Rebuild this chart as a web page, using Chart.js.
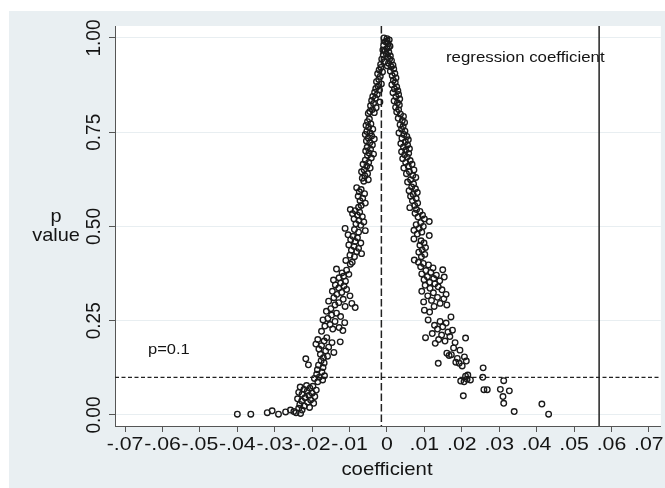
<!DOCTYPE html>
<html>
<head>
<meta charset="utf-8">
<script src="https://cdn.jsdelivr.net/npm/chart.js@4.4.1/dist/chart.umd.min.js"></script>
<style>
    html, body { margin: 0; padding: 0; background: #fff; }
    #wrap { width: 665px; height: 488px; }
</style>
</head>
<body>
<div id="wrap"><canvas id="grafico" width="665" height="488"></canvas></div>
<script>
// ticks
const xTicks = [-0.07, -0.06, -0.05, -0.04, -0.03, -0.02, -0.01, 0, 0.01, 0.02, 0.03, 0.04, 0.05, 0.06, 0.07];
const xTickLabels = ['-.07', '-.06', '-.05', '-.04', '-.03', '-.02', '-.01', '0', '.01', '.02', '.03', '.04', '.05', '.06', '.07'];
const yTicks = [0, 0.25, 0.5, 0.75, 1];
const yTickLabels = ['0.00', '0.25', '0.50', '0.75', '1.00'];

// reference lines
const zeroLine = -0.0015;
const coefLine = 0.0567;
const pThreshold = 0.1;

// [coefficient, p value]
const peakPoints = [
    [-0.0008, 1.0], [0.0, 0.998], [0.0006, 0.995], [-0.0004, 0.99], [0.0003, 0.985], [-0.0009, 0.98],
    [0.0008, 0.978], [0.0, 0.972], [-0.0005, 0.965], [0.0005, 0.962], [-0.001, 0.955], [0.0009, 0.952],
    [0.0002, 0.948], [-0.0014, 0.944], [0.0012, 0.94], [-0.0006, 0.937], [0.0004, 0.933], [-0.0017, 0.93],
    [0.0016, 0.928], [0.0, 0.992], [0.0004, 0.975], [-0.0002, 0.958], [0.0007, 0.944], [-0.0011, 0.968],
    [0.0001, 0.926]
];

const leftBranch = [
    [-0.0016, 0.922], [-0.0021, 0.915], [-0.0012, 0.91], [-0.0025, 0.905], [-0.0018, 0.898], [-0.0022, 0.89],
    [-0.0028, 0.884], [-0.0015, 0.878], [-0.0024, 0.872], [-0.003, 0.866], [-0.002, 0.862],
    [-0.0033, 0.856], [-0.0026, 0.85], [-0.0038, 0.845], [-0.0031, 0.84], [-0.0041, 0.834], [-0.0019, 0.83],
    [-0.0036, 0.826], [-0.0044, 0.82], [-0.0029, 0.815], [-0.0039, 0.81], [-0.0046, 0.805], [-0.0034, 0.802],
    [-0.005, 0.8],
    [-0.0047, 0.785], [-0.0052, 0.778], [-0.0043, 0.772], [-0.0056, 0.768], [-0.0049, 0.763], [-0.0038, 0.758],
    [-0.0054, 0.752], [-0.0045, 0.748], [-0.0058, 0.744], [-0.0041, 0.74], [-0.005, 0.735], [-0.0034, 0.732],
    [-0.0055, 0.727], [-0.0046, 0.722], [-0.0039, 0.716], [-0.0053, 0.71], [-0.0044, 0.705], [-0.0057, 0.7],
    [-0.0048, 0.695], [-0.0036, 0.692], [-0.0052, 0.688],
    [-0.0042, 0.682], [-0.0058, 0.676], [-0.0049, 0.67], [-0.0064, 0.665], [-0.0054, 0.66], [-0.0045, 0.655],
    [-0.0061, 0.65], [-0.0068, 0.645], [-0.0052, 0.64], [-0.0059, 0.634], [-0.0066, 0.628], [-0.005, 0.624],
    [-0.0062, 0.62],
    [-0.0081, 0.603], [-0.0069, 0.598], [-0.0074, 0.592], [-0.006, 0.587], [-0.0077, 0.58], [-0.0065, 0.575],
    [-0.0072, 0.568], [-0.0058, 0.562], [-0.0069, 0.556], [-0.0076, 0.551],
    [-0.0098, 0.545], [-0.0085, 0.542], [-0.0073, 0.538], [-0.0092, 0.534], [-0.0079, 0.53], [-0.0066, 0.526],
    [-0.0088, 0.52], [-0.0075, 0.516], [-0.0062, 0.512], [-0.0083, 0.507], [-0.007, 0.503], [-0.0112, 0.495],
    [-0.0087, 0.492], [-0.0058, 0.489], [-0.0076, 0.485],
    [-0.0104, 0.478], [-0.0091, 0.474], [-0.0079, 0.47], [-0.0097, 0.465], [-0.0085, 0.46], [-0.007, 0.456],
    [-0.0102, 0.451], [-0.0088, 0.447], [-0.0076, 0.442], [-0.0095, 0.437], [-0.0081, 0.433], [-0.0068, 0.428],
    [-0.0099, 0.424], [-0.0087, 0.42], [-0.011, 0.41], [-0.0093, 0.405], [-0.0098, 0.4],
    [-0.0135, 0.387], [-0.0108, 0.384], [-0.012, 0.377], [-0.0102, 0.373], [-0.0116, 0.368], [-0.0128, 0.364],
    [-0.0143, 0.358], [-0.0111, 0.355], [-0.0124, 0.35],
    [-0.0138, 0.345], [-0.0115, 0.342], [-0.0129, 0.337], [-0.0108, 0.333], [-0.0146, 0.328], [-0.0121, 0.325],
    [-0.0134, 0.32], [-0.0099, 0.316], [-0.0142, 0.311], [-0.0117, 0.307], [-0.0156, 0.302], [-0.0129, 0.298],
    [-0.0094, 0.296], [-0.0139, 0.292], [-0.0112, 0.288], [-0.0085, 0.285], [-0.015, 0.282],
    [-0.0162, 0.275], [-0.0135, 0.27], [-0.0148, 0.265], [-0.0124, 0.261], [-0.0158, 0.256], [-0.0171, 0.252],
    [-0.0139, 0.248], [-0.0113, 0.245], [-0.0152, 0.24], [-0.0166, 0.236], [-0.0128, 0.232], [-0.0145, 0.228],
    [-0.0118, 0.224], [-0.0175, 0.222],
    [-0.0125, 0.194], [-0.0161, 0.205], [-0.0185, 0.2], [-0.0168, 0.196], [-0.0147, 0.192], [-0.019, 0.188],
    [-0.0175, 0.184], [-0.0156, 0.18], [-0.0182, 0.175], [-0.0164, 0.17], [-0.0142, 0.166], [-0.0178, 0.161],
    [-0.0159, 0.156], [-0.017, 0.152],
    [-0.0217, 0.149], [-0.021, 0.133], [-0.0176, 0.144], [-0.0168, 0.138], [-0.0183, 0.132], [-0.0171, 0.126],
    [-0.0186, 0.12], [-0.0174, 0.114], [-0.0188, 0.108], [-0.0167, 0.104], [-0.0181, 0.1], [-0.0194, 0.097],
    [-0.0172, 0.093], [-0.0185, 0.088],
    [-0.0215, 0.078], [-0.0198, 0.076], [-0.0232, 0.074], [-0.0206, 0.071], [-0.0222, 0.068], [-0.0189, 0.066],
    [-0.0213, 0.063], [-0.0236, 0.06], [-0.02, 0.058], [-0.0227, 0.055], [-0.0209, 0.052], [-0.0193, 0.049],
    [-0.0219, 0.046], [-0.0239, 0.043], [-0.0204, 0.04], [-0.0228, 0.037], [-0.0212, 0.034], [-0.0196, 0.031],
    [-0.0233, 0.028], [-0.0221, 0.024], [-0.0207, 0.02],
    [-0.040, 0.002], [-0.0364, 0.002], [-0.032, 0.006], [-0.0307, 0.011], [-0.029, 0.002], [-0.0271, 0.008],
    [-0.0258, 0.013], [-0.0243, 0.006], [-0.0236, 0.018], [-0.0227, 0.013], [-0.0249, 0.009], [-0.0231, 0.004]
];

const rightBranch = [
    [0.0011, 0.924], [0.0018, 0.918], [0.0009, 0.912], [0.0021, 0.906], [0.0014, 0.9], [0.0024, 0.894],
    [0.0017, 0.888], [0.0022, 0.882], [0.0013, 0.876], [0.0026, 0.87],
    [0.002, 0.865], [0.0029, 0.86], [0.0016, 0.855], [0.0031, 0.85], [0.0024, 0.844], [0.0034, 0.838],
    [0.0019, 0.833], [0.0028, 0.828], [0.0033, 0.822], [0.0023, 0.816], [0.0031, 0.81], [0.0026, 0.804],
    [0.0036, 0.798], [0.0044, 0.792], [0.003, 0.787], [0.0041, 0.781], [0.0047, 0.776], [0.0035, 0.77],
    [0.0043, 0.765], [0.0039, 0.758], [0.0048, 0.753],
    [0.0032, 0.748], [0.0045, 0.744], [0.0053, 0.739], [0.004, 0.734], [0.0057, 0.73], [0.0049, 0.725],
    [0.0037, 0.72], [0.0055, 0.716], [0.0044, 0.711], [0.006, 0.706], [0.005, 0.702], [0.0039, 0.698],
    [0.0058, 0.694], [0.0047, 0.69],
    [0.0054, 0.684], [0.0042, 0.68], [0.0062, 0.675], [0.005, 0.67], [0.0067, 0.665], [0.0057, 0.66],
    [0.0045, 0.655], [0.0072, 0.65], [0.006, 0.645], [0.0052, 0.64], [0.0069, 0.635], [0.0077, 0.63],
    [0.0063, 0.624], [0.0055, 0.618], [0.0071, 0.613],
    [0.0066, 0.605], [0.0076, 0.6], [0.0059, 0.595], [0.0081, 0.59], [0.007, 0.585], [0.0063, 0.58],
    [0.0078, 0.574], [0.0068, 0.568], [0.0082, 0.562], [0.0074, 0.556], [0.0061, 0.55], [0.0079, 0.545],
    [0.0088, 0.54], [0.0075, 0.535], [0.0095, 0.53], [0.0083, 0.525], [0.01, 0.52], [0.0113, 0.513],
    [0.009, 0.51], [0.0078, 0.505], [0.0097, 0.5], [0.0086, 0.495], [0.0072, 0.49], [0.0093, 0.485],
    [0.0113, 0.476], [0.0081, 0.48], [0.0072, 0.467],
    [0.0091, 0.462], [0.0099, 0.456], [0.0088, 0.45], [0.0103, 0.444], [0.0094, 0.438], [0.0085, 0.432],
    [0.0101, 0.426], [0.0092, 0.42], [0.0073, 0.411],
    [0.0084, 0.405], [0.0097, 0.402], [0.0111, 0.398], [0.009, 0.393], [0.0123, 0.39], [0.0149, 0.385],
    [0.0104, 0.383], [0.0117, 0.378], [0.0093, 0.374], [0.0132, 0.371], [0.0108, 0.367], [0.0153, 0.366],
    [0.0125, 0.362], [0.0099, 0.359], [0.0141, 0.356], [0.0114, 0.352],
    [0.0128, 0.348], [0.0102, 0.344], [0.0137, 0.34], [0.0115, 0.336], [0.0147, 0.332], [0.0093, 0.328],
    [0.0124, 0.324], [0.0158, 0.32], [0.0109, 0.316], [0.0135, 0.312], [0.0152, 0.308], [0.0119, 0.304],
    [0.0098, 0.3], [0.0142, 0.296], [0.016, 0.292], [0.0126, 0.288], [0.01, 0.278], [0.0114, 0.273],
    [0.0171, 0.26], [0.011, 0.252], [0.0142, 0.248], [0.0158, 0.244], [0.0127, 0.238], [0.0149, 0.234],
    [0.0175, 0.225], [0.0135, 0.228], [0.0163, 0.22], [0.0121, 0.216], [0.0146, 0.212], [0.0103, 0.205],
    [0.021, 0.204], [0.0168, 0.208], [0.0138, 0.2], [0.0155, 0.196], [0.0182, 0.192], [0.0129, 0.19],
    [0.0178, 0.178], [0.0195, 0.172], [0.016, 0.164], [0.0172, 0.16], [0.0207, 0.154], [0.0188, 0.15],
    [0.0166, 0.158], [0.0137, 0.137], [0.0193, 0.137], [0.0201, 0.13], [0.0184, 0.14], [0.0212, 0.143],
    [0.021, 0.103], [0.0216, 0.106], [0.0197, 0.09], [0.0206, 0.088], [0.0223, 0.093], [0.0257, 0.125],
    [0.0256, 0.1], [0.0214, 0.095],
    [0.0204, 0.051], [0.0259, 0.067], [0.0268, 0.067], [0.0312, 0.091], [0.0303, 0.068], [0.0327, 0.064],
    [0.031, 0.049], [0.0312, 0.031], [0.034, 0.009], [0.0414, 0.029], [0.0432, 0.002]
];

const FUENTE = "'Liberation Sans', Arial, sans-serif";
const COLOR_TEXTO = '#141414';
const COLOR_FONDO = '#e9eff2';

// text a bit wider than tall, like the original export
function textoAncho(ctx, txt, x, y, size, sx, align) {
    ctx.save();
    ctx.translate(x, y);
    ctx.scale(sx, 1);
    ctx.font = size + 'px ' + FUENTE;
    ctx.fillStyle = COLOR_TEXTO;
    ctx.textAlign = align;
    ctx.textBaseline = 'alphabetic';
    ctx.fillText(txt, 0, 0);
    ctx.restore();
}

const fondo = {
    id: 'fondo',
    beforeDraw(chart) {
        const { ctx, chartArea: a } = chart;
        ctx.save();
        ctx.fillStyle = '#fff';
        ctx.fillRect(0, 0, chart.width, chart.height);
        ctx.fillStyle = COLOR_FONDO;
        ctx.fillRect(9, 11, chart.width - 9, chart.height - 11);
        ctx.fillStyle = '#fff';
        ctx.fillRect(a.left, a.top, a.right - a.left, a.bottom - a.top);
        ctx.restore();
    }
};

const lineas = {
    id: 'lineas',
    beforeDatasetsDraw(chart) {
        const { ctx, chartArea: a, scales: { x, y } } = chart;
        ctx.save();
        ctx.beginPath();
        ctx.rect(a.left, a.top, a.right - a.left, a.bottom - a.top);
        ctx.clip();
        ctx.strokeStyle = '#222';

        // dashed line at zero
        const x0 = x.getPixelForValue(zeroLine);
        ctx.lineWidth = 1.5;
        ctx.setLineDash([7.5, 3]);
        ctx.beginPath();
        ctx.moveTo(x0, a.top);
        ctx.lineTo(x0, a.bottom);
        ctx.stroke();

        // p = 0.1
        const yp = y.getPixelForValue(pThreshold);
        ctx.lineWidth = 1.3;
        ctx.setLineDash([4, 2.5]);
        ctx.beginPath();
        ctx.moveTo(a.left, yp);
        ctx.lineTo(a.right, yp);
        ctx.stroke();

        // regression coefficient
        const xc = x.getPixelForValue(coefLine);
        ctx.lineWidth = 1.5;
        ctx.setLineDash([]);
        ctx.beginPath();
        ctx.moveTo(xc, a.top);
        ctx.lineTo(xc, a.bottom);
        ctx.stroke();
        ctx.restore();
    }
};

const textos = {
    id: 'textos',
    afterDraw(chart) {
        const { ctx, scales: { x, y } } = chart;

        xTicks.forEach((v, i) => {
            textoAncho(ctx, xTickLabels[i], x.getPixelForValue(v), 450, 19, 1.12, 'center');
        });
        textoAncho(ctx, 'coefficient', x.getPixelForValue(0), 475, 19, 1.07, 'center');

        yTicks.forEach((v, i) => {
            ctx.save();
            ctx.translate(100, y.getPixelForValue(v));
            ctx.rotate(-Math.PI / 2);
            ctx.scale(1, 1.1);
            ctx.font = '19px ' + FUENTE;
            ctx.fillStyle = COLOR_TEXTO;
            ctx.textAlign = 'center';
            ctx.fillText(yTickLabels[i], 0, 0);
            ctx.restore();
        });
        textoAncho(ctx, 'p', 56, 222, 19, 1.05, 'center');
        textoAncho(ctx, 'value', 56, 241, 19, 1.05, 'center');

        textoAncho(ctx, 'regression coefficient', 446, 62, 14.5, 1.16, 'left');
        textoAncho(ctx, 'p=0.1', 148, 353.5, 15, 1.1, 'left');
    }
};

const puntos = peakPoints.concat(leftBranch, rightBranch).map(p => ({ x: p[0], y: p[1] }));

new Chart(document.getElementById('grafico'), {
    type: 'scatter',
    data: {
        datasets: [{
            data: puntos,
            pointRadius: 2.8,
            pointBorderWidth: 1.35,
            borderColor: '#1a1a1a',
            backgroundColor: 'rgba(0,0,0,0)',
            pointHoverRadius: 2.8
        }]
    },
    options: {
        responsive: false,
        animation: false,
        events: [],
        layout: { padding: { top: 26, left: 0, right: 0, bottom: 0 } },
        plugins: {
            legend: { display: false },
            tooltip: { enabled: false }
        },
        scales: {
            x: {
                type: 'linear',
                min: -0.0727,
                max: 0.0732,
                afterBuildTicks: (scale) => { scale.ticks = xTicks.map(v => ({ value: v })); },
                afterFit: (scale) => { scale.height = 62; },
                ticks: { display: false },
                grid: { drawOnChartArea: false, drawTicks: true, tickLength: 6, tickColor: '#555' },
                border: { display: true, color: '#555', width: 1 }
            },
            y: {
                type: 'linear',
                min: -0.0292,
                max: 1.0318,
                afterBuildTicks: (scale) => { scale.ticks = yTicks.map(v => ({ value: v })); },
                afterFit: (scale) => { scale.width = 115; },
                ticks: { display: false },
                grid: { color: '#e8eef1', lineWidth: 1, drawTicks: true, tickLength: 6, tickColor: '#555' },
                border: { display: true, color: '#555', width: 1 }
            }
        }
    },
    plugins: [fondo, lineas, textos]
});
</script>
</body>
</html>
